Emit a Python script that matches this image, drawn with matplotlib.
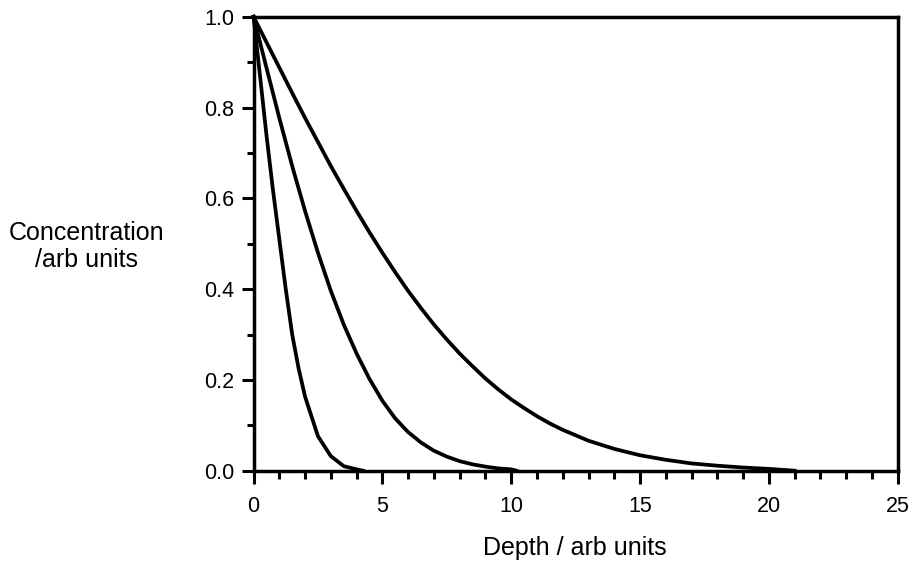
import numpy as np
import matplotlib
matplotlib.use('Agg')
import matplotlib.pyplot as plt
from matplotlib.ticker import MultipleLocator, FormatStrFormatter

plt.rcParams['font.family'] = ['Liberation Sans', 'DejaVu Sans']

# depth profiles
depth_a = [0, 0.25, 0.5, 0.75, 1.0, 1.25, 1.5, 1.75, 2.0, 2.5, 3.0, 3.5, 4.0, 4.25]
conc_a = [1.0, 0.87, 0.74, 0.62, 0.51, 0.40, 0.30, 0.225, 0.163, 0.076, 0.032, 0.010, 0.003, 0.0]

depth_b = [0, 0.5, 1, 1.5, 2, 2.5, 3, 3.5, 4, 4.5, 5, 5.5, 6, 6.5, 7, 7.5,
           8, 8.5, 9, 9.5, 10, 10.2]
conc_b = [1.0, 0.888, 0.777, 0.671, 0.572, 0.48, 0.396, 0.322, 0.258, 0.202, 0.154, 0.115,
          0.085, 0.062, 0.044, 0.031, 0.021, 0.014, 0.009, 0.005, 0.003, 0.0]

depth_c = [0, 0.5, 1, 1.5, 2, 2.5, 3, 3.5, 4, 4.5, 5, 5.5, 6, 6.5, 7, 7.5, 8, 8.5,
           9, 9.5, 10, 10.5, 11, 11.5, 12, 13, 14, 15, 16, 17, 18, 19, 20, 21]
conc_c = [1.0, 0.944, 0.888, 0.832, 0.777, 0.724, 0.671, 0.621, 0.572, 0.525, 0.48, 0.437,
          0.396, 0.358, 0.322, 0.289, 0.258, 0.23, 0.203, 0.179, 0.157, 0.138, 0.12, 0.104,
          0.09, 0.066, 0.048, 0.034, 0.024, 0.016, 0.011, 0.007, 0.004, 0.0]

fig = plt.figure(figsize=(9.13, 5.65), dpi=100)
ax = fig.add_axes([0.2777, 0.1669, 0.7056, 0.8035])

for d, c in [(depth_a, conc_a), (depth_b, conc_b), (depth_c, conc_c)]:
    ax.plot(d, c, color='black', lw=2.7, clip_on=False)

ax.set_xlim(0, 25)
ax.set_ylim(0, 1.0)
ax.xaxis.set_major_locator(MultipleLocator(5))
ax.xaxis.set_minor_locator(MultipleLocator(1))
ax.yaxis.set_major_locator(MultipleLocator(0.2))
ax.yaxis.set_minor_locator(MultipleLocator(0.1))
ax.xaxis.set_major_formatter(FormatStrFormatter('%d'))
ax.yaxis.set_major_formatter(FormatStrFormatter('%.1f'))

for s in ax.spines.values():
    s.set_linewidth(2.5)

ax.tick_params(axis='x', which='major', direction='out', length=9, width=2.2, pad=9, labelsize=15.5)
ax.tick_params(axis='x', which='minor', direction='out', length=6, width=2.2)
ax.tick_params(axis='y', which='major', direction='out', length=9, width=2.2, pad=5, labelsize=15.5)
ax.tick_params(axis='y', which='minor', direction='out', length=5, width=2.2)

ax.set_xlabel('Depth / arb units', fontsize=18, va='center')
ax.xaxis.set_label_coords(0.499, -0.17)
ax.set_ylabel('Concentration\n/arb units', fontsize=18, rotation=0, ha='center', va='center',
              linespacing=1.2)
ax.yaxis.set_label_coords(-0.259, 0.494)

fig.savefig('out.png', dpi=100)
